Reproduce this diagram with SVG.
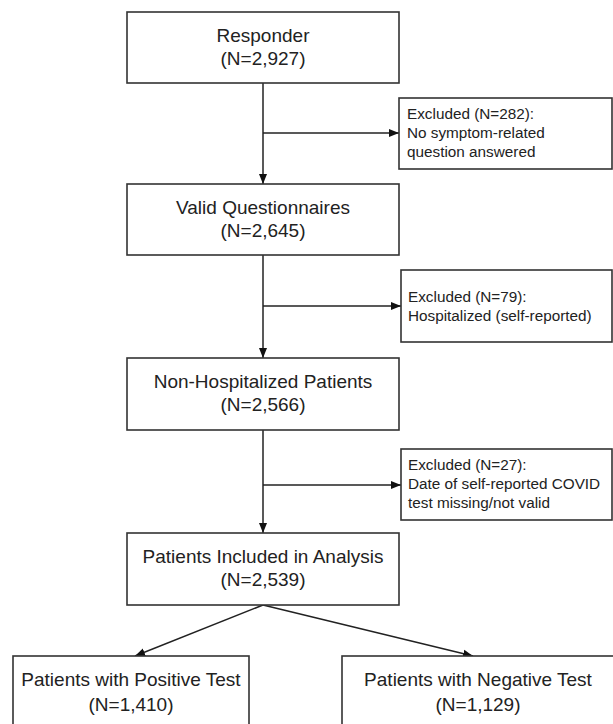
<svg xmlns="http://www.w3.org/2000/svg" width="613" height="724" viewBox="0 0 613 724">
<style>
.box{fill:#fff;stroke:#333;stroke-width:1.6}
.t{font-family:"Liberation Sans",Arial,sans-serif;font-size:19px;fill:#222;text-anchor:middle}
.s{font-family:"Liberation Sans",Arial,sans-serif;font-size:15.3px;fill:#222}
.c{fill:none;stroke:#222;stroke-width:1.5}
</style>
<defs>
<marker id="ah" viewBox="0 0 10 10" refX="10" refY="5" markerWidth="10" markerHeight="10" markerUnits="userSpaceOnUse" orient="auto">
<path d="M0,1 L10,5 L0,9 Z" fill="#111"/>
</marker>
</defs>
<rect width="613" height="724" fill="#fff"/>
<g id="connectors">
<line class="c" x1="263" y1="83" x2="263" y2="184" marker-end="url(#ah)"/>
<line class="c" x1="263" y1="133" x2="399" y2="133" marker-end="url(#ah)"/>
<line class="c" x1="263" y1="255" x2="263" y2="358" marker-end="url(#ah)"/>
<line class="c" x1="263" y1="306" x2="401" y2="306" marker-end="url(#ah)"/>
<line class="c" x1="263" y1="430" x2="263" y2="533" marker-end="url(#ah)"/>
<line class="c" x1="263" y1="485" x2="401" y2="485" marker-end="url(#ah)"/>
<line class="c" x1="263" y1="605" x2="135" y2="656" marker-end="url(#ah)"/>
<line class="c" x1="263" y1="605" x2="473" y2="656" marker-end="url(#ah)"/>
</g>
<g id="responder">
<rect class="box" x="127" y="12" width="272" height="71"/>
<text class="t" x="263" y="42">Responder</text>
<text class="t" x="263" y="65">(N=2,927)</text>
</g>
<g id="excluded1">
<rect class="box" x="399" y="98" width="213" height="71"/>
<text class="s" x="407" y="119">Excluded (N=282):</text>
<text class="s" x="407" y="138">No symptom-related</text>
<text class="s" x="407" y="157">question answered</text>
</g>
<g id="valid">
<rect class="box" x="127" y="184" width="272" height="71"/>
<text class="t" x="263" y="214">Valid Questionnaires</text>
<text class="t" x="263" y="237">(N=2,645)</text>
</g>
<g id="excluded2">
<rect class="box" x="401" y="270" width="211" height="72"/>
<text class="s" x="408" y="302">Excluded (N=79):</text>
<text class="s" x="408" y="321">Hospitalized (self-reported)</text>
</g>
<g id="nonhosp">
<rect class="box" x="127" y="358" width="272" height="72"/>
<text class="t" x="263" y="388">Non-Hospitalized Patients</text>
<text class="t" x="263" y="411">(N=2,566)</text>
</g>
<g id="excluded3">
<rect class="box" x="401" y="449" width="211" height="71"/>
<text class="s" x="408" y="470">Excluded (N=27):</text>
<text class="s" x="408" y="489">Date of self-reported COVID</text>
<text class="s" x="408" y="508">test missing/not valid</text>
</g>
<g id="included">
<rect class="box" x="127" y="533" width="272" height="72"/>
<text class="t" x="263" y="563">Patients Included in Analysis</text>
<text class="t" x="263" y="586">(N=2,539)</text>
</g>
<g id="positive">
<rect class="box" x="13" y="656" width="236" height="80"/>
<text class="t" x="131" y="686">Patients with Positive Test</text>
<text class="t" x="131" y="711">(N=1,410)</text>
</g>
<g id="negative">
<rect class="box" x="342" y="656" width="280" height="80"/>
<text class="t" x="478" y="686">Patients with Negative Test</text>
<text class="t" x="478" y="711">(N=1,129)</text>
</g>
</svg>
